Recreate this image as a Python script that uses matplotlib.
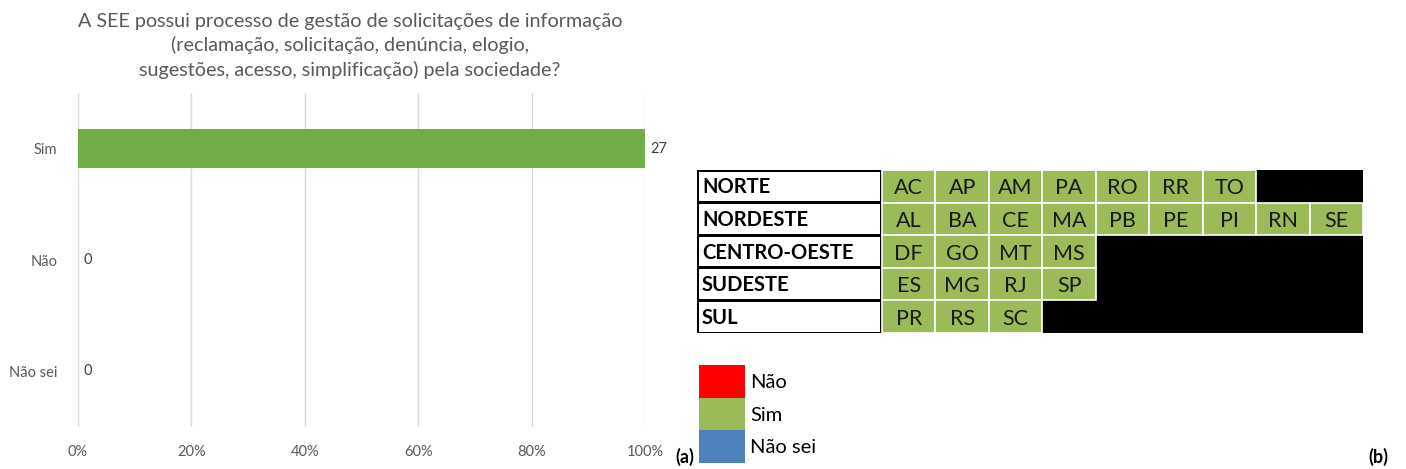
import matplotlib
matplotlib.use("Agg")
import matplotlib.pyplot as plt
from matplotlib.patches import Rectangle

plt.rcParams['font.family'] = ['Lato', 'DejaVu Sans']

# ---- data ----
title = ("A SEE possui processo de gestão de solicitações de informação\n"
         "(reclamação, solicitação, denúncia, elogio,\n"
         "sugestões, acesso, simplificação) pela sociedade?")
categories = ['Sim', 'Não', 'Não sei']
counts = [27, 0, 0]
pct_ticks = [0, 20, 40, 60, 80, 100]

regions = ['NORTE', 'NORDESTE', 'CENTRO-OESTE', 'SUDESTE', 'SUL']
states = [['AC', 'AP', 'AM', 'PA', 'RO', 'RR', 'TO'],
          ['AL', 'BA', 'CE', 'MA', 'PB', 'PE', 'PI', 'RN', 'SE'],
          ['DF', 'GO', 'MT', 'MS'],
          ['ES', 'MG', 'RJ', 'SP'],
          ['PR', 'RS', 'SC']]
answers = [['Sim'] * len(r) for r in states]
legend_labels = ['Não', 'Sim', 'Não sei']
answer_colors = {'Não': '#FF0000', 'Sim': '#9BBB59', 'Não sei': '#4F81BD'}

W, H = 1406, 469
fig = plt.figure(figsize=(W / 100, H / 100), dpi=100)

def fax(x0, y0, x1, y1):
    return fig.add_axes([x0 / W, 1 - y1 / H, (x1 - x0) / W, (y1 - y0) / H])

# ---- left bar chart ----
ax = fax(78, 93, 645, 427)
total = sum(counts)
pcts = [c / total * 100 for c in counts]
ypos = list(range(len(categories)))
ax.barh(ypos, pcts, height=0.35, color='#70AD47', zorder=3)
for y, p, c in zip(ypos, pcts, counts):
    ax.text(p + 0.9, y, str(c), va='center', ha='left', fontsize=10.5, color='#404040')
ax.set_xlim(0, 100)
ax.set_ylim(len(categories) - 0.5, -0.5)
ax.set_yticks(ypos)
ax.set_yticklabels(categories, fontsize=10.5, color='#595959')
ax.set_xticks(pct_ticks)
ax.set_xticklabels([f'{t}%' for t in pct_ticks], fontsize=10.5, color='#595959')
ax.tick_params(length=0, pad=15, axis='y')
ax.tick_params(length=0, pad=13, axis='x')
ax.grid(axis='x', color='#D9D9D9', linewidth=1, zorder=0)
for s in ax.spines.values():
    s.set_visible(False)
fig.text(350 / W, 1 - 46 / H, title, ha='center', va='center', fontsize=14.2,
         color='#595959', linespacing=1.4)
fig.text(685 / W, 1 - 457 / H, '(a)', ha='center', va='center', fontsize=13,
         fontweight='bold', color='black')
fig.text(1378 / W, 1 - 457 / H, '(b)', ha='center', va='center', fontsize=13,
         fontweight='bold', color='black')

# ---- right table ----
tx = fax(697, 170, 1363, 333)
tw, th = 666, 163
tx.set_xlim(0, tw)
tx.set_ylim(th, 0)
tx.axis('off')
label_w = 185
ncol = max(len(r) for r in states)
cell_w = (tw - label_w) / ncol
row_h = th / len(regions)
tx.add_patch(Rectangle((0, 0), tw, th, facecolor='black', edgecolor='none'))
for i, (reg, sts, ans) in enumerate(zip(regions, states, answers)):
    y0 = i * row_h
    tx.add_patch(Rectangle((2, y0 + 1.5), label_w - 4, row_h - 3,
                           facecolor='white', edgecolor='none'))
    tx.text(5, y0 + row_h / 2 + 1, reg, ha='left', va='center', fontsize=14.5,
            fontweight='bold', color='black')
    for j, (st, a) in enumerate(zip(sts, ans)):
        x0 = label_w + j * cell_w
        tx.add_patch(Rectangle((x0, y0), cell_w, row_h,
                               facecolor=answer_colors[a], edgecolor='white',
                               linewidth=1.2))
        tx.text(x0 + cell_w / 2, y0 + row_h / 2 + 2, st, ha='center', va='center',
                fontsize=15.5, color='#1a1a1a')

# ---- legend ----
lg = fax(699, 365, 900, 463)
lg.set_xlim(0, 201)
lg.set_ylim(98, 0)
lg.axis('off')
lh = 98 / len(legend_labels)
for k, lab in enumerate(legend_labels):
    lg.add_patch(Rectangle((0, k * lh), 46, lh, facecolor=answer_colors[lab],
                           edgecolor='none'))
    lg.text(51, k * lh + lh / 2 + 1, lab, ha='left', va='center', fontsize=14.5,
            color='black')

fig.savefig('out.png', dpi=100)
